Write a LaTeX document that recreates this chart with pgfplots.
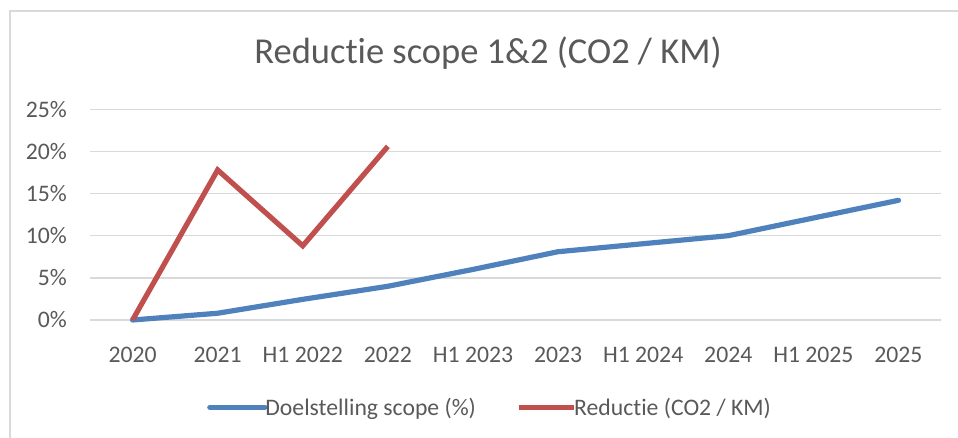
\documentclass[border=0pt]{standalone}
\usepackage{fontspec}
\setmainfont[Ligatures=NoCommon]{Carlito}
\usepackage{pgfplots}
\pgfplotsset{compat=1.18}
\definecolor{sblue}{HTML}{4F81BD}
\definecolor{sred}{HTML}{C0504D}
\definecolor{txt}{HTML}{595959}
\definecolor{gridc}{HTML}{D9D9D9}
\begin{document}
\begin{tikzpicture}[x=1bp,y=1bp]
\useasboundingbox (0,0) rectangle (958,438);
\draw[gridc, line width=1.5bp] (10,-5) -- (10,427) -- (965,427);
\node[anchor=base, text=txt, font=\fontsize{36.5bp}{40bp}\selectfont, inner sep=0pt] at (488,374.7) {Reductie scope 1\&2 (CO2 / KM)};
\begin{axis}[
  at={(90bp,118bp)}, anchor=south west, scale only axis,
  width=851bp, height=210.7bp,
  xmin=-0.5, xmax=9.5, ymin=0, ymax=25,
  axis line style={draw=none},
  clip=false,
  xtick={0,...,9},
  xticklabels={2020,2021,H1 2022,2022,H1 2023,2023,H1 2024,2024,H1 2025,2025},
  ytick={0,5,...,25},
  yticklabels={0\%,5\%,10\%,15\%,20\%,25\%},
  major tick length=0pt,
  ymajorgrids,
  major grid style={gridc, line width=1.3bp},
  tick label style={font=\fontsize{23.7bp}{28bp}\selectfont, text=txt, inner sep=0pt},
  yticklabel style={anchor=east, xshift=-23bp},
  xticklabel style={anchor=north, yshift=-27bp},
  /pgf/number format/assume math mode=true,
  legend style={at={(rel axis cs:0.1375,-0.414)}, anchor=west, draw=none, fill=none,
    inner sep=0pt, font=\fontsize{23.7bp}{28bp}\selectfont, text=txt,
    legend columns=2,
    /tikz/every odd column/.append style={column sep=-2bp},
    /tikz/every even column/.append style={column sep=40bp},
    nodes={inner sep=0pt, anchor=west}},
  legend cell align=left,
  legend image code/.code={\draw[#1] (0bp,0bp) -- (55bp,0bp);},
]
\addplot[sblue, line width=5.2bp, line cap=round, line join=round] coordinates {
(0,0) (1,0.8) (2,2.45) (3,4.0) (4,6.0) (5,8.1) (6,9.05) (7,10.0) (8,12.1) (9,14.2)};
\addlegendentry{Doelstelling scope (\%)}
\addplot[sred, line width=5.2bp, line cap=butt, line join=miter] coordinates {
(0,0) (1,17.8) (2,8.8) (3,20.6)};
\addlegendentry{Reductie (CO2 / KM)}
\end{axis}
\end{tikzpicture}
\end{document}
